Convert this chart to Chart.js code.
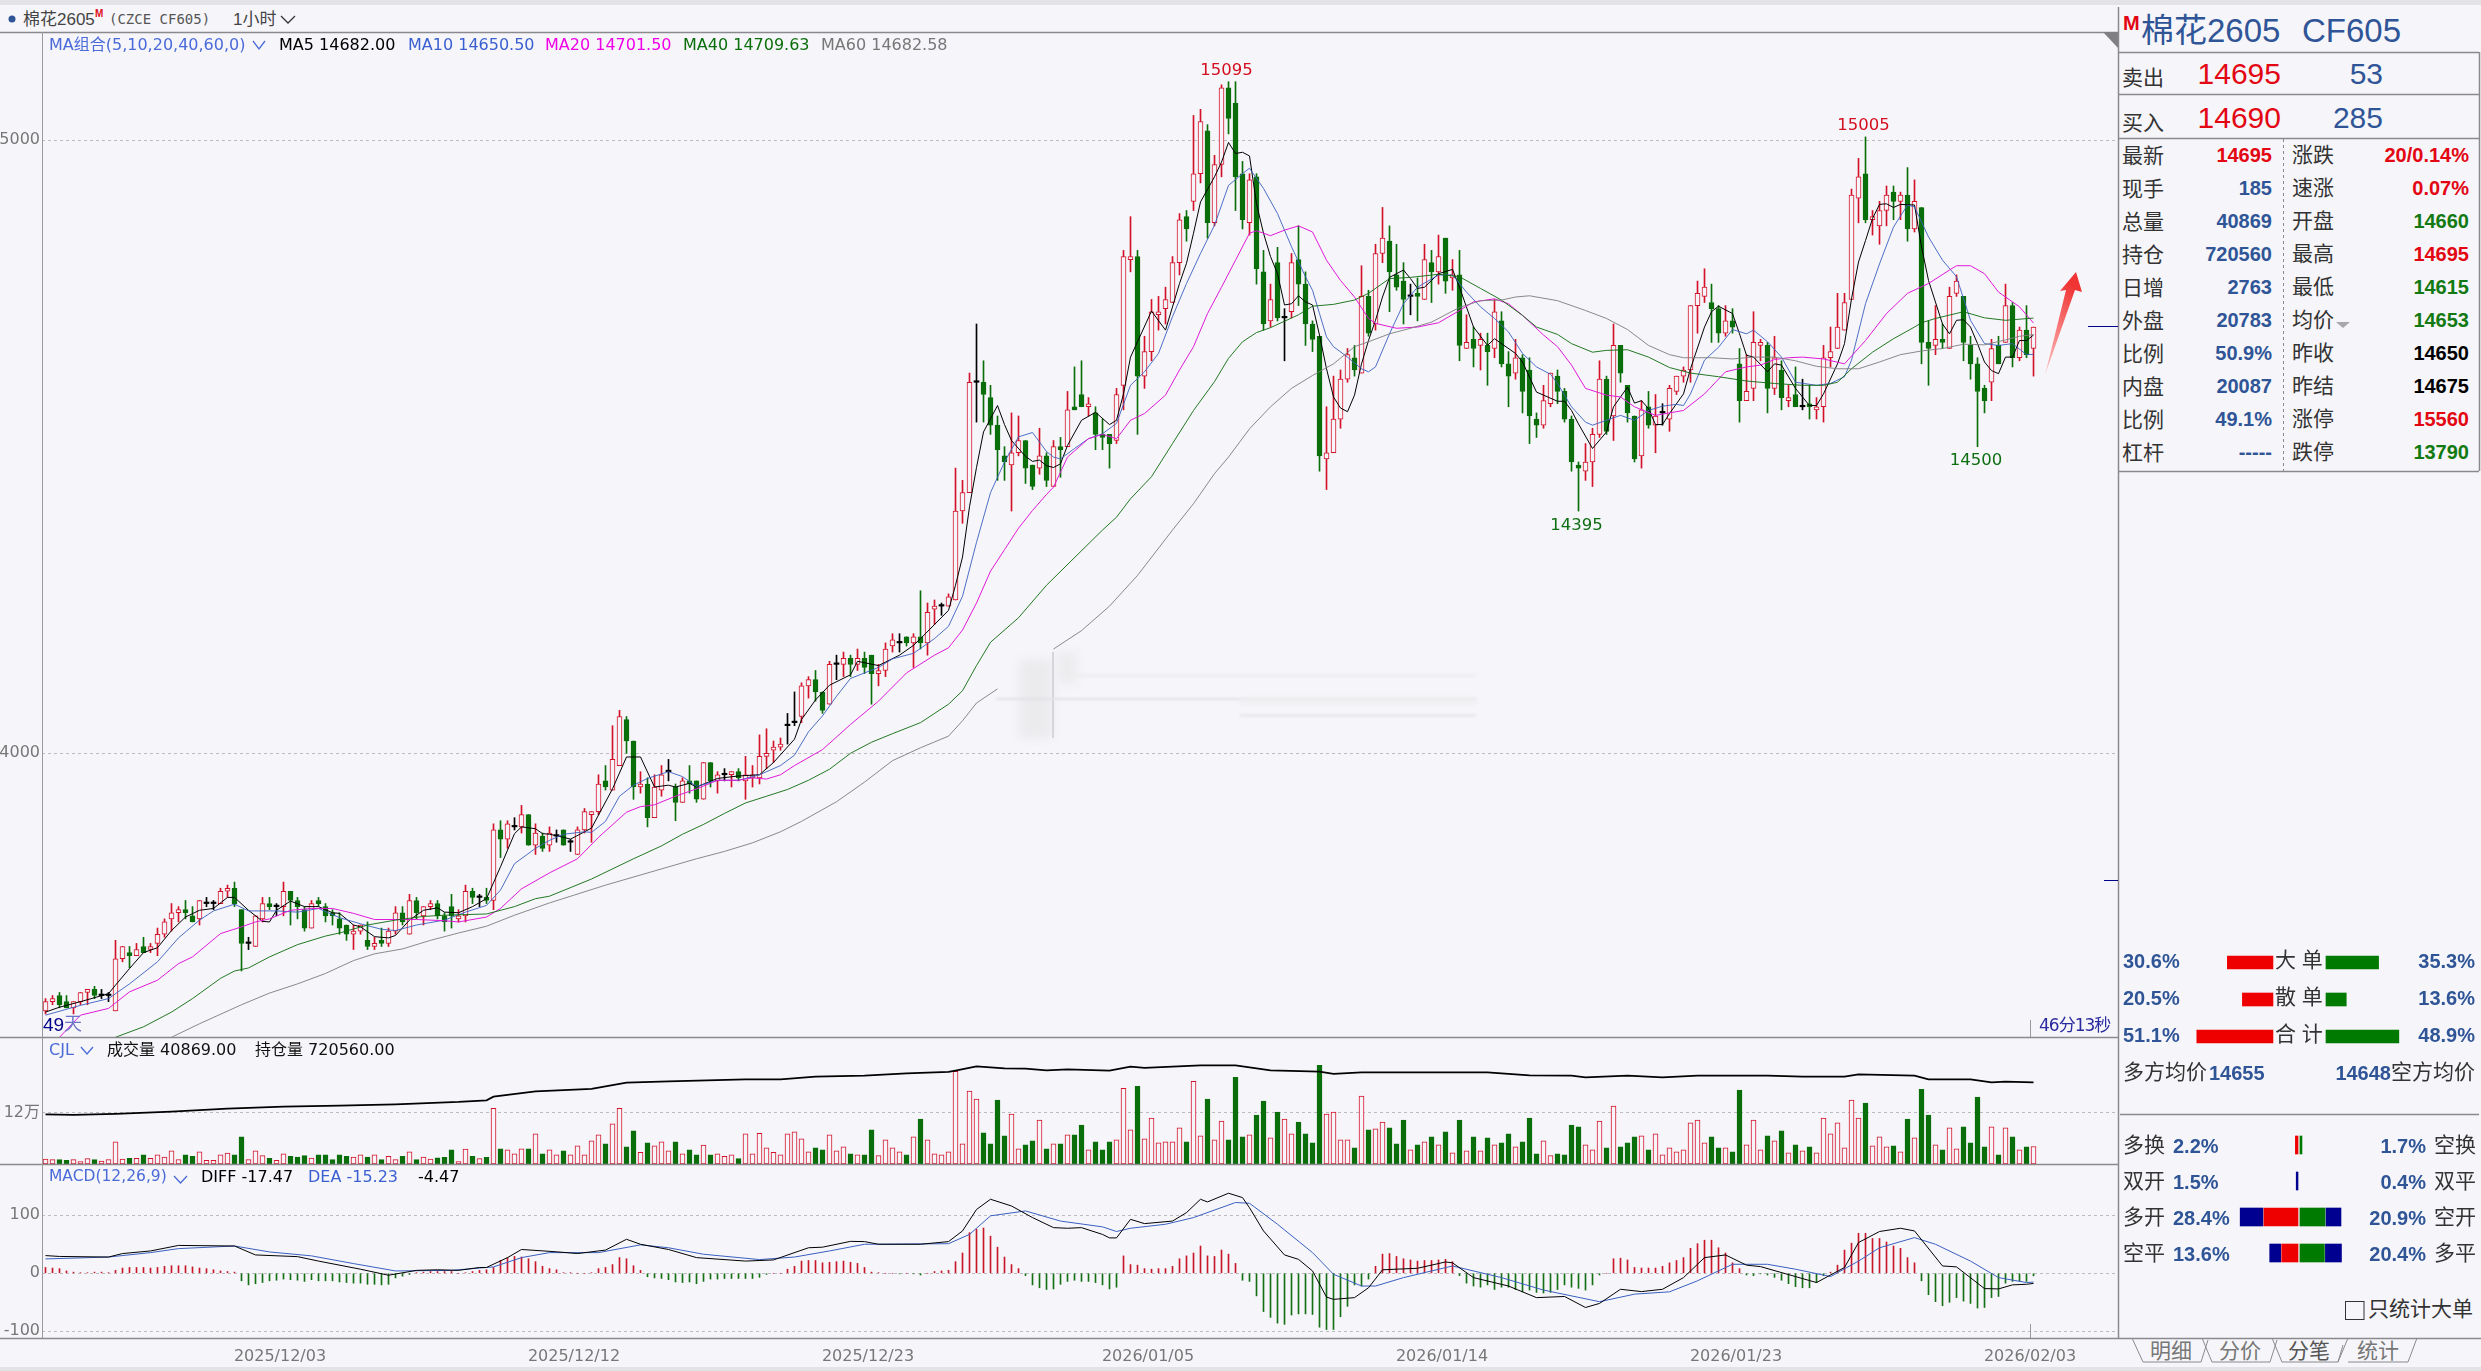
<!DOCTYPE html>
<html lang="zh-CN"><head><meta charset="utf-8"><title>棉花2605 CF605</title>
<script src="https://cdn.jsdelivr.net/npm/chart.js@4"></script>
<style>
html,body{margin:0;padding:0;background:#f6f6fa;width:2481px;height:1371px;overflow:hidden}
#stage{position:relative;width:2481px;height:1371px;background:#f6f6fa;overflow:hidden}
canvas{position:absolute;display:block}
.t{position:absolute;white-space:pre;line-height:1;font-family:"Liberation Sans","Noto Sans CJK SC",sans-serif;transform:translateY(-50%)}
.c{font-family:"DejaVu Sans","Noto Sans CJK SC",sans-serif;font-size:16px}
.s{position:absolute;pointer-events:none}
svg{position:absolute;left:0;top:0}
</style></head><body><div id="stage"></div>
<script>
// ---- candles: one value per hourly bar
const opens=[13580,13595,13605,13595,13585,13595,13610,13615,13605,13605,
13580,13665,13675,13670,13685,13680,13690,13705,13730,13740,
13745,13735,13730,13755,13755,13755,13775,13780,13745,13690,
13685,13730,13755,13750,13750,13775,13760,13745,13715,13760,
13750,13740,13730,13720,13705,13710,13695,13685,13695,13690,
13710,13740,13705,13760,13735,13750,13755,13735,13750,13730,
13735,13775,13765,13765,13760,13875,13860,13880,13880,13900,
13850,13865,13850,13865,13875,13855,13835,13875,13900,13905,
13955,13940,13980,14055,14020,13945,13950,13895,13940,13970,
13945,13920,13955,13955,13925,13985,13955,13965,13965,13970,
13955,13960,13960,13995,14005,14010,14045,14050,14060,14110,
14120,14100,14080,14145,14145,14155,14145,14155,14160,14130,
14135,14175,14180,14190,14180,14190,14180,14235,14240,14240,
14250,14395,14425,14605,14605,14580,14535,14485,14470,14490,
14510,14470,14465,14485,14435,14500,14500,14565,14585,14565,
14555,14520,14520,14510,14600,14805,14810,14615,14655,14715,
14725,14735,14800,14875,14900,14945,15015,14865,14960,15085,
15060,14945,14865,14940,14785,14705,14800,14710,14720,14805,
14765,14700,14680,14480,14490,14545,14610,14645,14620,14745,
14700,14815,14835,14780,14770,14745,14750,14740,14800,14785,
14840,14775,14780,14660,14675,14665,14665,14660,14705,14635,
14620,14645,14625,14545,14535,14570,14615,14590,14545,14470,
14460,14475,14520,14610,14550,14665,14600,14550,14485,14565,
14535,14555,14545,14590,14615,14625,14730,14745,14735,14725,
14685,14705,14635,14575,14595,14665,14665,14595,14625,14575,
14585,14565,14570,14560,14565,14645,14660,14690,14740,14905,
14945,14870,14860,14885,14915,14900,14910,14855,14890,14670,
14665,14675,14660,14750,14745,14665,14635,14595,14605,14665,
14670,14730,14645,14690,14660];
const highs=[13600,13605,13610,13605,13595,13610,13615,13620,13615,13610,
13695,13685,13685,13690,13700,13690,13715,13730,13755,13750,
13760,13750,13760,13765,13760,13780,13785,13790,13745,13700,
13735,13765,13765,13755,13790,13775,13765,13750,13760,13765,
13755,13745,13740,13720,13720,13720,13725,13700,13715,13715,
13750,13750,13770,13765,13750,13760,13760,13740,13770,13745,
13785,13780,13770,13780,13885,13890,13890,13895,13915,13900,
13885,13870,13880,13875,13875,13860,13880,13910,13905,13965,
13980,14045,14070,14060,14020,13970,13960,13965,13980,13990,
13950,13960,13980,13955,13985,13985,13970,13975,13970,13975,
13995,13980,14030,14040,14020,14025,14065,14100,14115,14125,
14135,14100,14150,14160,14165,14160,14170,14165,14160,14145,
14180,14195,14195,14190,14195,14265,14245,14250,14245,14260,
14465,14445,14620,14700,14640,14600,14550,14500,14555,14550,
14510,14470,14530,14490,14510,14515,14590,14630,14640,14580,
14565,14545,14520,14595,14820,14875,14820,14680,14740,14745,
14760,14810,14880,14885,15040,15050,15025,14975,15090,15095,
15095,14965,14945,14945,14820,14765,14825,14725,14815,14860,
14785,14705,14680,14565,14615,14625,14660,14665,14795,14755,
14830,14890,14860,14830,14800,14765,14775,14830,14820,14845,
14840,14805,14820,14715,14695,14685,14685,14740,14720,14655,
14675,14650,14645,14555,14600,14620,14625,14595,14550,14475,
14505,14530,14640,14615,14700,14665,14600,14550,14575,14590,
14585,14570,14600,14615,14630,14730,14770,14790,14765,14730,
14730,14725,14660,14650,14720,14675,14670,14680,14640,14600,
14630,14610,14600,14580,14665,14695,14750,14750,14920,14970,
15005,14885,14900,14925,14925,14915,14955,14935,14890,14705,
14730,14700,14760,14780,14745,14680,14645,14600,14675,14680,
14765,14735,14695,14730,14695];
const lows=[13575,13590,13585,13585,13575,13590,13590,13600,13600,13595,
13580,13660,13650,13670,13675,13675,13670,13700,13710,13725,
13730,13725,13720,13750,13745,13755,13765,13750,13645,13680,
13685,13725,13745,13735,13735,13720,13730,13710,13715,13750,
13725,13720,13705,13695,13680,13705,13680,13680,13685,13685,
13705,13720,13705,13730,13720,13745,13730,13710,13715,13725,
13725,13755,13750,13755,13745,13830,13845,13875,13870,13850,
13835,13840,13840,13855,13850,13840,13835,13870,13855,13900,
13940,13940,13980,14000,13925,13935,13880,13895,13930,13955,
13890,13920,13935,13920,13925,13945,13935,13955,13945,13955,
13925,13945,13950,13975,13985,14005,14015,14045,14050,14090,
14085,14065,14080,14120,14125,14125,14135,14130,14080,14110,
14125,14165,14165,14175,14140,14170,14160,14210,14225,14240,
14250,14375,14425,14540,14540,14520,14445,14445,14395,14485,
14440,14430,14455,14435,14435,14450,14500,14560,14565,14550,
14495,14495,14465,14505,14560,14785,14520,14595,14640,14690,
14700,14735,14780,14835,14885,14930,14840,14860,14940,15010,
14885,14855,14845,14765,14690,14695,14705,14640,14710,14730,
14665,14655,14460,14430,14490,14530,14605,14615,14620,14680,
14690,14800,14720,14755,14700,14715,14705,14740,14735,14765,
14750,14755,14640,14660,14630,14625,14600,14645,14630,14565,
14610,14555,14505,14515,14530,14565,14570,14540,14460,14395,
14445,14435,14515,14520,14510,14605,14540,14475,14465,14530,
14490,14535,14525,14585,14605,14605,14685,14735,14670,14670,
14680,14685,14540,14575,14575,14640,14555,14585,14560,14565,
14565,14560,14545,14545,14540,14630,14660,14690,14740,14865,
14865,14845,14830,14860,14870,14870,14835,14850,14635,14600,
14650,14660,14660,14745,14640,14610,14500,14555,14575,14635,
14670,14630,14640,14645,14615];
const closes=[13595,13600,13590,13585,13595,13610,13615,13605,13605,13605,
13665,13685,13670,13680,13675,13685,13705,13725,13740,13745,
13740,13725,13760,13755,13755,13775,13780,13755,13690,13690,
13735,13755,13750,13750,13775,13760,13750,13715,13755,13755,
13735,13735,13715,13705,13710,13720,13685,13690,13690,13710,
13740,13725,13760,13740,13750,13755,13735,13725,13735,13735,
13775,13765,13765,13760,13875,13860,13885,13880,13900,13850,
13870,13845,13870,13865,13850,13855,13875,13905,13905,13950,
13945,13990,14060,14020,13945,13950,13895,13945,13965,13970,
13920,13955,13950,13925,13985,13955,13965,13965,13970,13960,
13965,13965,13995,14000,14010,14015,14045,14050,14110,14120,
14100,14070,14145,14145,14155,14145,14155,14140,14130,14135,
14170,14185,14180,14180,14190,14180,14230,14240,14240,14255,
14395,14425,14605,14605,14585,14535,14495,14475,14490,14510,
14465,14435,14485,14445,14500,14495,14560,14560,14565,14570,
14520,14515,14505,14585,14810,14810,14615,14655,14720,14720,
14740,14800,14870,14855,14945,15030,14865,14960,15085,15035,
14940,14870,14935,14790,14700,14740,14710,14710,14800,14765,
14700,14675,14485,14490,14545,14610,14650,14625,14745,14685,
14815,14840,14785,14760,14740,14745,14745,14805,14785,14810,
14770,14780,14665,14670,14660,14675,14655,14720,14635,14615,
14645,14590,14550,14535,14575,14620,14590,14545,14475,14465,
14475,14520,14610,14525,14665,14620,14555,14480,14560,14535,
14550,14555,14595,14615,14625,14730,14750,14760,14725,14685,
14705,14695,14575,14590,14670,14670,14595,14645,14580,14580,
14565,14565,14565,14565,14645,14655,14695,14735,14910,14940,
14870,14875,14885,14910,14900,14910,14855,14900,14670,14660,
14675,14670,14745,14770,14670,14635,14590,14575,14660,14635,
14730,14645,14690,14650,14695];
// ---- moving averages as [bar, price]
const ma5=[[0,13578],[2,13586],[5,13595],[9,13608],[10,13622],[12,13649],[14,13675],[16,13683],[18,13711],[20,13733],[22,13744],[24,13747],[26,13765],[27,13765],[29,13744],[31,13726],[32,13725],[33,13744],[35,13759],[37,13750],[39,13750],[41,13740],[42,13739],[44,13720],[45,13717],[47,13701],[49,13699],[50,13703],[52,13728],[54,13744],[56,13748],[57,13741],[59,13740],[61,13750],[63,13763],[65,13815],[67,13869],[68,13880],[70,13877],[71,13869],[72,13868],[74,13863],[75,13860],[78,13878],[81,13942],[83,13994],[85,13994],[87,13945],[89,13948],[90,13945],[92,13951],[93,13945],[96,13959],[99,13963],[102,13965],[104,13985],[107,14023],[108,14055],[110,14087],[112,14111],[115,14128],[116,14150],[119,14143],[122,14160],[124,14176],[125,14187],[127,14210],[129,14233],[130,14274],[131,14320],[132,14402],[133,14466],[134,14524],[136,14567],[137,14536],[138,14510],[140,14484],[141,14476],[142,14478],[143,14469],[144,14466],[145,14472],[146,14502],[148,14543],[150,14556],[152,14536],[153,14543],[154,14586],[155,14646],[156,14671],[158,14721],[160,14690],[162,14766],[163,14799],[164,14848],[165,14899],[167,14940],[168,14964],[169,14996],[170,14978],[171,14980],[172,14974],[173,14896],[174,14848],[175,14810],[176,14782],[177,14731],[178,14733],[179,14746],[180,14736],[181,14731],[182,14682],[183,14627],[184,14581],[185,14563],[186,14557],[187,14584],[188,14635],[189,14673],[190,14706],[191,14744],[192,14776],[194,14788],[195,14774],[196,14758],[197,14760],[198,14771],[199,14782],[201,14789],[202,14760],[204,14695],[206,14665],[207,14676],[210,14652],[211,14638],[213,14589],[214,14584],[216,14574],[217,14574],[218,14559],[219,14537],[221,14497],[223,14524],[224,14565],[226,14597],[227,14571],[228,14575],[229,14562],[230,14536],[231,14536],[232,14554],[234,14586],[235,14627],[237,14695],[238,14720],[239,14729],[241,14717],[242,14684],[243,14649],[244,14646],[246,14622],[247,14635],[248,14633],[250,14595],[252,14567],[253,14567],[254,14586],[256,14635],[257,14668],[258,14741],[259,14801],[260,14836],[261,14872],[262,14895],[263,14896],[264,14890],[265,14895],[267,14894],[268,14826],[269,14771],[271,14700],[272,14684],[273,14706],[274,14707],[275,14695],[276,14668],[277,14638],[278,14624],[279,14619],[280,14646],[281,14646],[282,14673],[283,14673],[284,14682]];
const ma10=[[0,13573],[5,13589],[9,13600],[12,13624],[16,13660],[19,13699],[22,13728],[24,13743],[27,13754],[29,13743],[33,13743],[36,13741],[39,13747],[42,13732],[45,13722],[48,13713],[50,13711],[53,13720],[57,13728],[60,13741],[63,13752],[65,13777],[67,13820],[70,13845],[72,13858],[74,13868],[77,13872],[78,13871],[80,13889],[82,13930],[84,13948],[86,13959],[89,13970],[91,13962],[93,13946],[96,13956],[99,13956],[102,13965],[105,13980],[107,13997],[109,14035],[111,14061],[113,14093],[115,14122],[117,14131],[119,14140],[121,14154],[124,14163],[127,14187],[129,14207],[131,14256],[133,14344],[135,14425],[137,14475],[139,14516],[141,14523],[143,14492],[144,14483],[145,14480],[147,14497],[149,14513],[151,14521],[153,14538],[155,14600],[157,14622],[159,14652],[161,14712],[163,14766],[165,14815],[167,14861],[169,14926],[171,14945],[172,14954],[174,14921],[176,14880],[178,14826],[180,14777],[181,14755],[182,14717],[183,14679],[184,14663],[186,14646],[188,14627],[189,14622],[190,14630],[192,14684],[194,14733],[196,14760],[199,14780],[201,14780],[203,14752],[205,14728],[207,14709],[209,14687],[211,14652],[213,14630],[215,14618],[216,14603],[218,14565],[220,14540],[221,14535],[223,14543],[225,14551],[227,14543],[229,14559],[231,14566],[233,14569],[234,14567],[235,14586],[237,14641],[239,14662],[241,14691],[243,14684],[244,14690],[246,14671],[248,14646],[250,14605],[253,14600],[255,14603],[257,14614],[258,14641],[260,14733],[262,14798],[264,14858],[266,14894],[267,14891],[269,14842],[271,14804],[273,14777],[275,14706],[277,14668],[279,14665],[281,14668],[283,14650],[284,14650.5]];
const ma20=[[2,13537],[5,13573],[9,13584],[12,13611],[16,13630],[19,13657],[21,13668],[25,13706],[28,13717],[30,13725],[32,13730],[35,13744],[38,13747],[41,13747],[44,13739],[47,13729],[50,13729],[53,13729],[57,13727],[59,13725],[63,13733],[65,13747],[68,13779],[72,13805],[76,13828],[79,13863],[83,13904],[85,13913],[87,13916],[90,13930],[93,13942],[96,13956],[99,13956],[101,13960],[103,13958],[105,13965],[107,13980],[111,14006],[115,14047],[119,14085],[123,14131],[127,14160],[129,14172],[131,14201],[133,14245],[135,14297],[137,14332],[139,14367],[141,14396],[143,14422],[144,14434],[146,14483],[149,14513],[151,14520],[153,14513],[155,14543],[157,14554],[160,14584],[162,14625],[164,14663],[166,14717],[168,14760],[170,14804],[172,14848],[173,14852],[175,14844],[177,14853],[179,14860],[181,14850],[183,14804],[185,14771],[187,14744],[189,14709],[190,14701],[193,14693],[196,14695],[199,14702],[202,14722],[204,14736],[207,14741],[209,14733],[211,14714],[214,14682],[216,14663],[218,14633],[220,14595],[223,14584],[225,14581],[227,14565],[230,14551],[234,14559],[237,14586],[240,14622],[243,14630],[245,14633],[247,14642],[249,14645],[251,14646],[254,14643],[257,14635],[260,14673],[263,14717],[266,14750],[269,14766],[272,14788],[273,14795],[275,14795],[277,14782],[279,14752],[282,14728],[284,14701.5]];
const ma40=[[10,13537],[14,13554],[18,13578],[21,13600],[25,13633],[27,13645],[29,13650],[32,13668],[36,13688],[40,13702],[42,13707],[46,13720],[50,13728],[54,13734],[57,13736],[63,13738],[67,13750],[70,13763],[72,13767],[78,13795],[84,13828],[88,13849],[91,13868],[94,13884],[97,13902],[100,13919],[103,13930],[106,13941],[109,13956],[112,13974],[115,14000],[118,14018],[121,14032],[125,14050],[129,14080],[131,14102],[133,14143],[135,14181],[139,14221],[143,14274],[151,14364],[153,14385],[155,14415],[158,14451],[161,14505],[164,14559],[167,14606],[169,14644],[171,14671],[173,14686],[175,14694],[179,14715],[181,14729],[184,14732],[187,14739],[189,14750],[192,14774],[195,14776],[199,14781],[202,14777],[205,14758],[208,14739],[211,14714],[213,14695],[216,14683],[218,14668],[221,14654],[223,14657],[226,14658],[229,14646],[232,14629],[235,14620],[239,14614],[243,14607],[247,14603],[251,14600],[254,14600],[256,14605],[258,14627],[261,14654],[264,14676],[267,14695],[268,14702],[270,14709],[274,14720],[277,14710],[280,14706],[284,14709.6]];
const ma60=[[18,13537],[22,13559],[28,13590],[32,13609],[36,13624],[40,13641],[44,13662],[47,13673],[51,13681],[55,13695],[59,13707],[63,13718],[67,13736],[72,13756],[80,13785],[93,13828],[97,13840],[101,13854],[105,13872],[108,13889],[113,13921],[117,13953],[121,13988],[125,14009],[129,14028],[131,14053],[133,14082],[136,14105],[140,null],[144,14170],[148,14200],[152,14240],[156,14290],[161,14364],[164,14407],[167,14456],[169,14483],[172,14529],[175,14565],[178,14595],[181,14616],[184,14635],[187,14663],[189,14671],[192,14684],[195,14693],[198,14703],[202,14727],[205,14738],[208,14739],[210,14744],[212,14746],[216,14738],[220,14722],[223,14709],[226,14691],[229,14665],[232,14650],[234,14645],[238,14645],[241,14643],[244,14646],[247,14646],[250,14640],[253,14631],[256,14627],[259,14627],[262,14638],[265,14650],[268,14656],[271,14660],[274,14667],[277,14666],[280,14674],[282,14680],[284,14682.6]];
// ---- volume (thousand lots per bar) and open interest as [bar, lots]
const volumeK=[11.6,10.1,10.1,8.5,10.1,5.4,12.4,10.1,7,10.1,
51.9,11.6,13.2,13.2,21.7,13.2,21.7,16.3,31,10.1,
21.7,17.8,28.6,8.5,8.5,21.7,25.5,21.7,63.5,10.1,
31,19.4,13.2,8.5,24,17.8,16.3,19.4,13.9,21.7,
21.7,10.1,21.7,17.8,16.3,21.7,16.3,21.7,10.1,17.8,
10.1,17.8,28.6,10.1,16.3,11.6,14.7,15.5,33.3,5.4,
34.8,17.8,12.4,15.5,130,35.6,33.3,24,35.6,35.6,
70.4,24,33.3,21.7,31,21.7,42.6,21.7,54.2,68.1,
47.2,93.7,130,40.2,77.4,27.1,49.5,42.6,51.9,31,
51.9,24,33.3,21.7,44.1,21.7,24,17.8,21.7,12.4,
70.4,24,72,37.9,27.1,21.7,70.4,75.1,58.8,28.6,
37.9,33.3,68.1,31,40.2,24,21.7,21.7,79.7,19.4,
56.5,37.9,28.6,21.7,63.5,105.3,56.5,24,21.7,28.6,
216.7,47.2,170.3,151.7,72.8,47.2,149.4,65.8,116.9,35.6,
44.9,54.2,102.9,35.6,47.2,47.2,68.1,68.1,91.3,33.3,
51.9,33.3,51.9,56.5,177.2,79.7,181.9,58.8,107.6,49.5,
51.9,51.9,84.4,51.9,193.5,65.8,151.7,56.5,100.6,56.5,
202.8,63.5,68.1,114.6,147.1,61.1,121.5,105.3,70.4,98.3,
70.4,49.5,230.7,116.9,121.5,56.5,56.5,37.9,158.7,79.7,
82,98.3,84.4,47.2,102.9,33.3,44.9,51.9,63.5,44.9,
75.1,26.3,102.9,31,63.5,31,61.1,44.9,49.5,70.4,
40.2,51.9,107.6,24,54.2,19.4,24,21.7,91.3,86.7,
44.9,33.3,100.6,37.9,135.5,40.2,49.5,63.5,65.8,33.3,
70.4,21.7,37.9,28.6,33.3,96,102.9,49.5,63.5,37.9,
37.9,28.6,172.6,44.9,102.9,33.3,65.8,54.2,77.4,26.3,
44.9,31,40.2,26.3,107.6,70.4,96,37.9,149.4,107.6,
142.4,42.6,63.5,40.2,42.6,28.6,105.3,61.1,174.9,114.6,
44.9,33.3,84.4,35.6,86.7,49.5,156.3,40.2,86.7,21.7,
84.4,63.5,33.3,40.2,40.9];
const openInterest=[[0,509400],[4,505000],[10,511600],[18,527000],[26,546800],[34,560000],[42,566600],[50,575400],[59,590800],[63,601800],[64,626000],[70,661200],[78,676600],[83,718400],[89,727200],[100,740400],[105,740400],[110,758000],[117,764600],[123,780000],[129,788800],[130,797600],[133,826200],[137,813000],[140,810800],[143,799800],[146,806400],[152,797600],[155,824000],[157,815200],[165,832800],[170,832800],[175,799800],[182,791000],[184,775600],[188,786600],[191,786600],[206,786600],[212,766800],[218,764600],[220,753600],[226,764600],[231,753600],[236,764600],[246,764600],[251,758000],[257,758000],[259,773400],[267,764600],[269,740400],[275,740400],[278,720560],[280,725000],[284,720560]];
// ---- MACD
const macdHist=[10,9,8,4,2,1,1,2,2,1,5,9,10,10,10,9,10,12,13,13,13,11,9,8,6,4,3,2,
-13,-20,-18,-16,-13,-12,-10,-11,-12,-14,-11,-13,-13,-13,-15,-16,-17,-17,-19,-19,-20,-19,
-8,-5,-2,1,2,3,3,3,3,0,1,3,5,6,
10,22,27,29,28,25,20,12,8,6,
1,1,0,0,1,8,10,15,27,25,
13,5,-6,-8,-9,-11,-15,-16,-15,-18,
-14,-10,-10,-9,-9,-9,-9,-9,-7,-2,
0,0,7,12,21,22,22,18,19,20,
21,19,17,10,2,1,0,0,-1,0,
-1,-3,0,3,4,5,20,35,70,76,
78,64,45,28,15,8,-4,-20,-25,-28,
-27,-19,-14,-12,-14,-14,-16,-20,-27,-24,
30,15,14,8,7,8,8,12,25,30,
35,47,30,29,40,33,17,-12,-14,-39,
-66,-76,-86,-88,-72,-70,-70,-71,-93,-97,
-97,-75,-57,-20,-22,-10,12,33,34,29,
25,23,21,22,22,23,24,20,-4,-17,
-22,-24,-20,-28,-24,-24,-28,-32,-29,-33,
-34,-33,-28,-20,-24,-26,-29,-20,-3,0,
25,26,23,10,9,9,9,12,18,22,
27,43,51,57,57,44,35,18,8,-3,
-4,-1,-3,-7,-12,-18,-23,-25,-25,-16,
-4,2,14,40,52,69,69,60,60,54,
47,43,27,18,-13,-37,-49,-56,-50,-42,
-48,-52,-60,-59,-42,-40,-17,-14,-13,-14,-4.47];
const macdDiff=[[0,30.5],[2,29],[9,28],[11,34],[15,38.5],[19,48],[27,47],[30,31.6],[36,28.7],[39,21],[45,7],[49,-3.4],[53,5],[56,6],[59,5],[62,10],[63,10],[66,27],[68,41],[73,37],[76,34],[80,40],[83,58.6],[85,50],[89,41],[93,27],[100,21],[104,23],[109,44],[111,45],[115,55],[117,54.6],[119,50],[125,50],[129,54.6],[131,73],[133,110],[135,127.6],[138,116],[141,96],[144,78.7],[146,77.6],[148,78.7],[151,67],[152,61],[153,61],[155,93],[157,85.6],[161,90],[163,104.6],[165,127.6],[166,123],[169,138],[171,130.5],[172,113],[174,73],[177,31.6],[179,24],[181,4],[183,-41],[184,-45],[187,-42],[189,-25],[191,6],[196,8.6],[200,19.5],[201,18],[204,-7.5],[209,-22],[213,-42],[217,-40],[220,-59],[222,-52],[225,-27.6],[228,-31.6],[231,-27.6],[234,-7.5],[237,27],[240,31.6],[243,14],[245,11.5],[253,-16],[257,10],[259,53],[262,72],[265,77.6],[267,73],[271,12.6],[273,11],[277,-26.4],[279,-27],[281,-20],[283,-19],[284,-17.47]];
const macdDea=[[0,24.7],[9,28],[15,35.6],[19,42.5],[27,47],[32,36.8],[38,30],[44,16.7],[50,4],[58,5],[64,11],[68,27],[72,35.6],[79,35.6],[85,49],[89,44],[94,32.8],[102,23.6],[107,28],[112,38.5],[117,50],[129,51],[132,67],[135,99],[140,107.5],[145,90],[151,80],[153,72],[155,77.6],[160,84.5],[164,96],[170,122],[172,120.7],[176,84.5],[181,35.6],[184,-1.7],[188,-22],[190,-22],[194,-7.5],[201,12.6],[208,-7.5],[214,-29],[222,-49],[227,-36],[232,-32],[236,-13],[241,15.5],[246,15.5],[250,7],[255,-5.7],[259,21],[262,44],[267,61.5],[270,50],[275,21],[279,-7.5],[283,-16],[284,-15.23]];
// ---- axis ticks and labels
const priceTicks=[15000,14000];
const priceTickLabels=["5000","4000"];
const dateTickBars=[33.5,75.5,117.5,157.5,199.5,241.5,283.5];
const dateTickLabels=["2025/12/03","2025/12/12","2025/12/23","2026/01/05","2026/01/14","2026/01/23","2026/02/03"];
const macdTicks=[100,0,-100];
const extremeBars=[168.7,259.7,218.7,275.8];
const extremeValues=[15095,15005,14395,14500];
const extremeLabels=["15095","15005","14395","14500"];
// ---- quote panel
const quoteLeftLabels=["最新","现手","总量","持仓","日增","外盘","比例","内盘","比例","杠杆"];
const quoteLeftValues=["14695","185","40869","720560","2763","20783","50.9%","20087","49.1%","-----"];
const quoteRightLabels=["涨跌","速涨","开盘","最高","最低","均价","昨收","昨结","涨停","跌停"];
const quoteRightValues=["20/0.14%","0.07%","14660","14695","14615","14653","14650","14675","15560","13790"];
const quoteRightKinds=["r","r","g","r","g","g","k","k","r","g"];
const flowLabels=["大 单","散 单","合 计"];
const flowBuyPct=[30.6,20.5,51.1];
const flowSellPct=[35.3,13.6,48.9];
const typeLabelsL=["多换","双开","多开","空平"];
const typePctL=["2.2%","1.5%","28.4%","13.6%"];
const typeLabelsR=["空换","双平","空开","多平"];
const typePctR=["1.7%","0.4%","20.9%","20.4%"];
const typeBarRows=["多换","双开","多开","空平"];
const typeRedPct=[2.2,0,28.4,13.6];
const typeGreenPct=[1.7,0,20.9,20.4];
const typeBlueLeftPct=[0,1.5,19,9.2];
const typeBlueRightPct=[0,0,12.5,13.4];
const tabs=["明细","分价","分笔","统计"];

const stage=document.getElementById('stage');
const PAGE='#f6f6fa',RED='#d3122a',GREEN='#0a6e0a',GRID='#bcbcc0',AXIS='#777777';
const UI_RED='#e30613',UI_BLUE='#2f5597',UI_GREEN='#137a13',UI_TXT='#333333',NAVY='#000088';
const CHART_FONT='"DejaVu Sans","Noto Sans CJK SC",sans-serif';
const xMin=-0.5,xMax=296.07,LEFT_AXIS=42;

function mk(id,top,h,left=0,w=2118){
  const c=document.createElement('canvas');c.id=id;c.width=w;c.height=h;
  c.style.cssText=`left:${left}px;top:${top}px;width:${w}px;height:${h}px`;
  stage.appendChild(c);return c;
}
function text(str,x,y,o={}){
  const s=document.createElement('span');s.className='t'+(o.chart?' c':'');s.textContent=str;
  s.style.top=y+'px';
  if(o.right!==undefined){s.style.right=(2481-o.right)+'px';}else{s.style.left=x+'px';}
  if(o.center){s.style.transform='translate(-50%,-50%)';}
  if(o.size)s.style.fontSize=o.size+'px';
  if(o.color)s.style.color=o.color;
  if(o.bold)s.style.fontWeight='700';
  if(o.family)s.style.fontFamily=o.family;
  stage.appendChild(s);return s;
}
const pts=a=>a.map(([x,y])=>({x,y}));
const noPad=s=>{s.paddingLeft=0;s.paddingRight=0;s.paddingTop=0;s.paddingBottom=0;};
const xScaleHidden={type:'linear',min:xMin,max:xMax,display:false,offset:false};
function yBase(min,max,ticks,labelFn){
  return {type:'linear',min,max,position:'left',
    afterFit(s){s.width=LEFT_AXIS;noPad(s);},
    afterBuildTicks(s){s.ticks=ticks.map(v=>({value:v}));},
    border:{display:false,dash:[3,3]},
    grid:{color:GRID,lineWidth:1,drawTicks:false},
    ticks:{color:AXIS,font:{family:CHART_FONT,size:16},padding:2,autoSkip:false,maxRotation:0,callback:labelFn}};
}
const base={responsive:false,animation:false,devicePixelRatio:1,events:[],
  layout:{padding:0},plugins:{legend:{display:false},tooltip:{enabled:false}}};

// ---------- main price chart
const lineDs=(data,color,w=1)=>({type:'line',data:pts(data),borderColor:color,borderWidth:w,pointRadius:0,tension:0,spanGaps:false,order:0});
const isDoji=i=>opens[i]===closes[i];
const up=i=>closes[i]>=opens[i];
const candleColor=i=>isDoji(i)?'#000000':(up(i)?RED:GREEN);
const extremePlugin={id:'extremes',afterDatasetsDraw(ch){
  const {ctx,scales:{x,y}}=ch;ctx.save();ctx.font='16.5px '+CHART_FONT;ctx.textAlign='center';
  extremeLabels.forEach((t,i)=>{
    const high=i<2;ctx.fillStyle=high?'#d40f1f':'#0e6e12';
    ctx.textBaseline=high?'bottom':'top';
    ctx.fillText(t,x.getPixelForValue(extremeBars[i]),y.getPixelForValue(extremeValues[i])+(high?-3:6));
  });ctx.restore();}};
new Chart(mk('main',32,1005),{type:'bar',plugins:[extremePlugin],data:{datasets:[
  {label:'wick',data:opens.map((_,i)=>({x:i,y:[lows[i],highs[i]]})),barThickness:1,grouped:false,order:3,
   backgroundColor:opens.map((_,i)=>candleColor(i)),borderWidth:0},
  {label:'body',data:opens.map((_,i)=>({x:i,y:[opens[i],closes[i]]})),barThickness:5,grouped:false,order:2,minBarLength:1.5,
   backgroundColor:opens.map((_,i)=>isDoji(i)?'#000000':(up(i)?PAGE:GREEN)),
   borderColor:opens.map((_,i)=>isDoji(i)?'#000000':(up(i)?RED:GREEN)),borderWidth:opens.map((_,i)=>isDoji(i)?0:1),borderSkipped:false},
  lineDs(ma60,'#7d7d7d',0.9),lineDs(ma40,'#0b6a0b',0.9),lineDs(ma20,'#e018d8',1),lineDs(ma10,'#3a5fc0',0.9),lineDs(ma5,'#000000',1)
]},options:{...base,scales:{x:xScaleHidden,
  y:yBase(13537.4,15176.1,priceTicks,v=>priceTickLabels[priceTicks.indexOf(v)])}}});

// ---------- volume and open interest
new Chart(mk('vol',1037,127),{type:'bar',data:{datasets:[
  {data:volumeK.map((v,i)=>({x:i,y:v})),barThickness:5,grouped:false,yAxisID:'y',order:2,
   backgroundColor:volumeK.map((_,i)=>up(i)?PAGE:GREEN),borderColor:volumeK.map((_,i)=>up(i)?RED:GREEN),borderWidth:1,borderSkipped:false},
  {type:'line',data:pts(openInterest),borderColor:'#000',borderWidth:1.8,pointRadius:0,tension:0,yAxisID:'oi',order:0}
]},options:{...base,scales:{x:xScaleHidden,
  y:yBase(0,297,[120],()=> '12万'),
  oi:{type:'linear',display:false,min:181340,max:1019540}}}});

// ---------- MACD
new Chart(mk('macd',1164,203),{type:'bar',data:{datasets:[
  {data:macdHist.map((v,i)=>({x:i,y:v})),barThickness:1,grouped:false,order:2,
   backgroundColor:macdHist.map(v=>v>=0?'#c8162a':'#157015')},
  {type:'line',data:pts(macdDea),borderColor:'#3a5fc0',borderWidth:1,pointRadius:0,tension:0,order:1},
  {type:'line',data:pts(macdDiff),borderColor:'#000',borderWidth:1,pointRadius:0,tension:0,order:0}
]},options:{...base,scales:{
  x:{type:'linear',min:xMin,max:xMax,position:'bottom',offset:false,
     afterFit(s){s.height=29;noPad(s);},
     afterBuildTicks(s){s.ticks=dateTickBars.map(v=>({value:v}));},
     border:{display:false},grid:{display:false},
     ticks:{color:AXIS,font:{family:CHART_FONT,size:16},padding:1,autoSkip:false,maxRotation:0,minRotation:0,
       callback:v=>dateTickLabels[dateTickBars.indexOf(v)]}},
  y:yBase(-111.6,188.4,macdTicks,v=>String(v))}}});

// ---------- right panel flow bars (drawn on percent scales)
const flowGap=17.8;
new Chart(mk('flow',943.5,111,2118,361),{type:'bar',data:{labels:flowLabels,datasets:[
  {data:flowBuyPct.map(p=>[-flowGap-p,-flowGap]),backgroundColor:'#ee0000',barThickness:13,grouped:false,borderWidth:0},
  {data:flowSellPct.map(p=>[flowGap,flowGap+p]),backgroundColor:'#007a00',barThickness:13,grouped:false,borderWidth:0}
]},options:{...base,indexAxis:'y',scales:{x:{type:'linear',display:false,min:-121.8,max:120.5},y:{type:'category',display:false}}}});
const g=0.8,s1=0.8; // separators, in percent units
new Chart(mk('types',1127,144,2118,361),{type:'bar',data:{labels:typeBarRows,datasets:[
  {data:typeRedPct.map(p=>p?[-g-p,-g]:null),backgroundColor:'#ee0000',barThickness:18,grouped:false,borderWidth:0},
  {data:typeGreenPct.map(p=>p?[g,g+p]:null),backgroundColor:'#007a00',barThickness:18,grouped:false,borderWidth:0},
  {data:typeBlueLeftPct.map((p,i)=>p?[-g-typeRedPct[i]-(typeRedPct[i]?s1:0)-p,-g-typeRedPct[i]-(typeRedPct[i]?s1:0)]:null),backgroundColor:'#000090',barThickness:18,grouped:false,borderWidth:0},
  {data:typeBlueRightPct.map((p,i)=>p?[g+typeGreenPct[i]+s1,g+typeGreenPct[i]+s1+p]:null),backgroundColor:'#000090',barThickness:18,grouped:false,borderWidth:0}
]},options:{...base,indexAxis:'y',scales:{x:{type:'linear',display:false,min:-150.8,max:150},y:{type:'category',display:false}}}});

// ---------- chart header texts
text('棉花2605',23,19,{size:17,color:'#444'});
text('M',95,14,{size:10,color:'#e01020',bold:true});
text('(CZCE CF605)',109,19,{size:14,color:'#555',family:'"DejaVu Sans Mono",monospace'});
text('1小时',233,19,{size:17,color:'#444'});
const legend=[['MA组合(5,10,20,40,60,0)',49,'#4a6ad8'],['MA5 14682.00',279,'#000'],['MA10 14650.50',408,'#3a5fd0'],['MA20 14701.50',545,'#f000e8'],['MA40 14709.63',683,'#0a6e0a'],['MA60 14682.58',821,'#777']];
legend.forEach(([t,x,c])=>text(t,x,45,{chart:true,color:c}));
text('CJL',49,1050,{chart:true,color:'#4a6ad8'});
text('成交量 40869.00',107,1050,{chart:true,color:'#111'});
text('持仓量 720560.00',255,1050,{chart:true,color:'#111'});
text('MACD(12,26,9)',49,1177,{chart:true,color:'#4a6ad8',size:15.5});
text('DIFF -17.47',201,1177,{chart:true,color:'#000'});
text('DEA -15.23',308,1177,{chart:true,color:'#3a5fd0'});
text('-4.47',418,1177,{chart:true,color:'#000'});
text('49',43,1024,{size:19,color:NAVY});
text('天',64,1024,{size:18,color:'#6b74c8'});
text('46分13秒',2039,1025,{size:17,color:'#2a2aa0',family:'"DejaVu Sans","Noto Sans CJK SC",sans-serif'}).style.letterSpacing='-1px';

// ---------- quote panel texts
text('M',2123,23,{size:20,bold:true,color:UI_RED});
text('棉花2605',2141,30,{size:33,color:UI_BLUE});
text('CF605',2302,30,{size:33,color:UI_BLUE});
text('卖出',2122,77,{size:21,color:UI_TXT});
text('14695',0,74,{right:2281,size:30,color:UI_RED});
text('53',0,74,{right:2383,size:30,color:UI_BLUE});
text('买入',2122,122,{size:21,color:UI_TXT});
text('14690',0,118,{right:2281,size:30,color:UI_RED});
text('285',0,118,{right:2383,size:30,color:UI_BLUE});
const kind={r:UI_RED,g:UI_GREEN,k:'#000'};
quoteLeftLabels.forEach((l,i)=>{
  const y=155+i*32.95;
  text(l,2122,y,{size:21,color:UI_TXT});
  text(quoteLeftValues[i],0,y,{right:2272,size:20,bold:true,color:i===0?UI_RED:UI_BLUE});
  text(quoteRightLabels[i],2292,y-1,{size:21,color:UI_TXT});
  text(quoteRightValues[i],0,y,{right:2469,size:20,bold:true,color:kind[quoteRightKinds[i]]});
});
flowLabels.forEach((l,i)=>{
  const y=961+i*37;
  text(flowBuyPct[i].toFixed(1)+'%',2123,y,{size:20,bold:true,color:UI_BLUE});
  text(l,2275,y-2,{size:21,color:UI_TXT});
  text(flowSellPct[i].toFixed(1)+'%',0,y,{right:2475,size:20,bold:true,color:UI_BLUE});
});
text('多方均价',2123,1071,{size:21,color:UI_TXT});
text('14655',2209,1073,{size:20,bold:true,color:UI_BLUE});
text('14648',0,1073,{right:2391,size:20,bold:true,color:UI_BLUE});
text('空方均价',0,1071,{right:2475,size:21,color:UI_TXT});
typeLabelsL.forEach((l,i)=>{
  const y=1145+i*36;
  text(l,2123,y-1,{size:21,color:UI_TXT});
  text(typePctL[i],2173,y+1,{size:20,bold:true,color:UI_BLUE});
  text(typePctR[i],0,y+1,{right:2426,size:20,bold:true,color:UI_BLUE});
  text(typeLabelsR[i],2434,y-1,{size:21,color:UI_TXT});
});
text('只统计大单',2368,1308,{size:21,color:UI_TXT});
[2171,2240,2309,2378].forEach((x,i)=>text(tabs[i],x,1350,{center:true,size:21,color:i===2?'#555':'#777'}));

// ---------- watermark smudge left in the picture
[[1019,660,34,78,'#ebebee',5],[1057,652,20,32,'#ececef',5],[1052,652,2,86,'#d6d6da',0.7],[996,698,480,2,'#e2e2e6',1],[1070,674,406,3,'#eeeef1',1.2],[1240,698,236,6,'#eeeef1',2],[1240,714,236,3,'#e9e9ec',1.2]].forEach(([x,y,w,h,c,b])=>{
  const d=document.createElement('div');d.className='s';
  d.style.cssText+=`left:${x}px;top:${y}px;width:${w}px;height:${h}px;background:${c};filter:blur(${b}px)`;
  stage.appendChild(d);});

// ---------- frame, rules and the hand-drawn arrow
const chev=(x,y,w,h,c)=>`<polyline points="${x},${y} ${x+w/2},${y+h} ${x+w},${y}" fill="none" stroke="${c}" stroke-width="1.3"/>`;
const ln=(x1,y1,x2,y2,c='#8a8a8e',w=1.5,extra='')=>`<line x1="${x1}" y1="${y1}" x2="${x2}" y2="${y2}" stroke="${c}" stroke-width="${w}" ${extra}/>`;
const svg=`<svg width="2481" height="1371" xmlns="http://www.w3.org/2000/svg">
<defs><linearGradient id="ag" x1="0" y1="1" x2="0.3" y2="0"><stop offset="0" stop-color="#ffc4c4"/><stop offset="1" stop-color="#f03434"/></linearGradient></defs>
<rect x="0" y="0" width="2481" height="5" fill="#e3e3e7"/><rect x="0" y="1367" width="2481" height="4" fill="#e3e3e7"/>
${ln(0,32.5,2118,32.5)}${ln(0,1037.5,2118,1037.5)}${ln(0,1164.5,2118,1164.5)}${ln(0,1338.5,2118,1338.5)}
${ln(42.5,32,42.5,1338,'#9a9a9e',1)}
${ln(2118.5,7,2118.5,1338)}${ln(2118,52.5,2479,52.5)}${ln(2118,94.5,2479,94.5)}${ln(2118,138.5,2479,138.5)}${ln(2118,471.5,2479,471.5)}${ln(2479.5,52,2479.5,471)}
${ln(2283.5,139,2283.5,471,'#8a8a8e',1,'stroke-dasharray="3,3"')}
${ln(2120,1114.5,2479,1114.5)}${ln(2118,1338.5,2481,1338.5)}
<polygon points="2103,32 2118,32 2118,48" fill="#808084"/>
${ln(2088,326.5,2118,326.5,NAVY,1)}${ln(2104,880.5,2118,880.5,NAVY,1)}
${ln(2030.5,1020,2030.5,1037,'#9a9a9e',1)}${ln(2030.5,1324,2030.5,1338,'#9a9a9e',1)}
<circle cx="12" cy="19" r="3.5" fill="#2f5597"/>
${chev(281,16,14,7,'#333')}${chev(253,41,12,8,'#4a6ad8')}${chev(81,1047,12,7,'#4a6ad8')}${chev(174,1176,13,7,'#4a6ad8')}
<polygon points="2336,322 2350,322 2343,328" fill="#a8a8ac"/>
<rect x="2345.5" y="1301.5" width="18.5" height="18" fill="none" stroke="#333" stroke-width="1"/>
<polyline points="2132,1338 2143,1362 2201,1362 2208,1340" fill="none" stroke="#8a8a8e" stroke-width="1"/>
<polyline points="2202,1338 2212,1362 2270,1362 2277,1340" fill="none" stroke="#8a8a8e" stroke-width="1"/>
<polyline points="2272,1338 2282,1362 2338,1362 2348,1338" fill="none" stroke="#8a8a8e" stroke-width="1"/>
<polyline points="2343,1345 2338,1362" fill="none" stroke="#8a8a8e" stroke-width="1"/>
<polyline points="2348,1362 2408,1362 2417,1338" fill="none" stroke="#8a8a8e" stroke-width="1"/>
<polygon points="2045,375 2066,290 2060,291 2076,272 2082,292 2075,290" fill="url(#ag)"/>
</svg>`;
const holder=document.createElement('div');holder.innerHTML=svg;stage.appendChild(holder);
</script></body></html>
